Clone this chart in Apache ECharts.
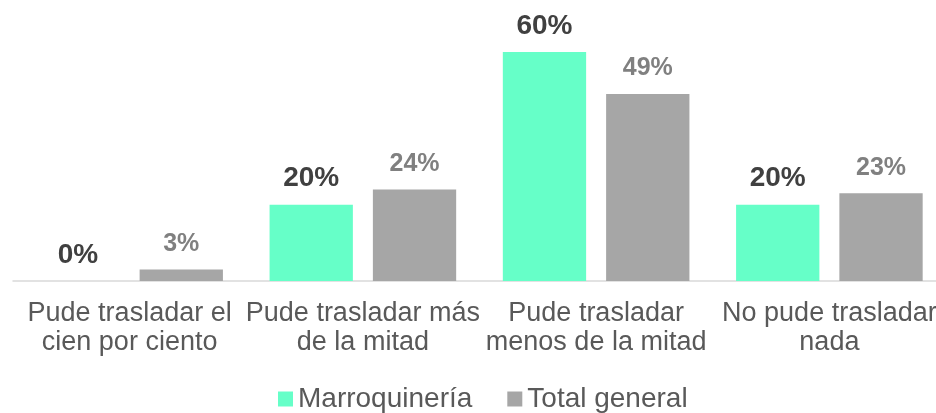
<!DOCTYPE html>
<html>
<head>
<meta charset="utf-8">
<script src="https://cdn.jsdelivr.net/npm/echarts@6/dist/echarts.min.js"></script>
<style>
  html, body { margin: 0; padding: 0; background: #fff; }
  #main { width: 936px; height: 413px; }
</style>
</head>
<body>
<div id="main"></div>
<script>
  let categories = [
    'Pude trasladar el\ncien por ciento',
    'Pude trasladar más\nde la mitad',
    'Pude trasladar\nmenos de la mitad',
    'No pude trasladar\nnada'
  ],
      marroquineria = [0, 20, 60, 20],
      totalGeneral = [3, 24, 49, 23];

  var myChart = echarts.init(document.getElementById('main'));
  var option = {
    textStyle: { fontFamily: 'Liberation Sans, Arial, sans-serif' },
    legend: {
      top: 380,
      left: 273,
      itemWidth: 15,
      itemHeight: 15,
      itemGap: 35,
      icon: 'rect',
      textStyle: {
        fontSize: 28,
        color: '#595959',
        fontFamily: 'Liberation Sans, Arial, sans-serif'
      },
      data: ['Marroquinería', 'Total general']
    },
    grid: {
      left: 13,
      right: -10,
      top: 52,
      bottom: 132,
      outerBoundsMode: 'none',
      containLabel: false
    },
    xAxis: {
      type: 'category',
      data: categories,
      axisTick: { show: false },
      axisLine: { lineStyle: { color: '#d9d9d9', width: 1.5 } },
      axisLabel: {
        fontSize: 27,
        color: '#595959',
        fontFamily: 'Liberation Sans, Arial, sans-serif',
        lineHeight: 29,
        margin: 18,
        interval: 0,
        hideOverlap: false
      }
    },
    yAxis: {
      type: 'value',
      min: 0,
      max: 60,
      show: false
    },
    series: [
      {
        name: 'Marroquinería',
        type: 'bar',
        data: marroquineria,
        barGap: '24%',
        barCategoryGap: '20%',
        itemStyle: { color: '#66ffc8' },
        label: {
          show: true,
          position: 'top',
          distance: 12,
          formatter: '{c}%',
          fontSize: 28,
          fontWeight: 'bold',
          fontFamily: 'Liberation Sans, Arial, sans-serif',
          color: '#404040'
        }
      },
      {
        name: 'Total general',
        type: 'bar',
        data: totalGeneral,
        itemStyle: { color: '#a6a6a6' },
        label: {
          show: true,
          position: 'top',
          distance: 13,
          formatter: '{c}%',
          fontSize: 25,
          fontWeight: 'bold',
          fontFamily: 'Liberation Sans, Arial, sans-serif',
          color: '#808080'
        }
      }
    ]
  };
  myChart.setOption(option);
</script>
</body>
</html>
